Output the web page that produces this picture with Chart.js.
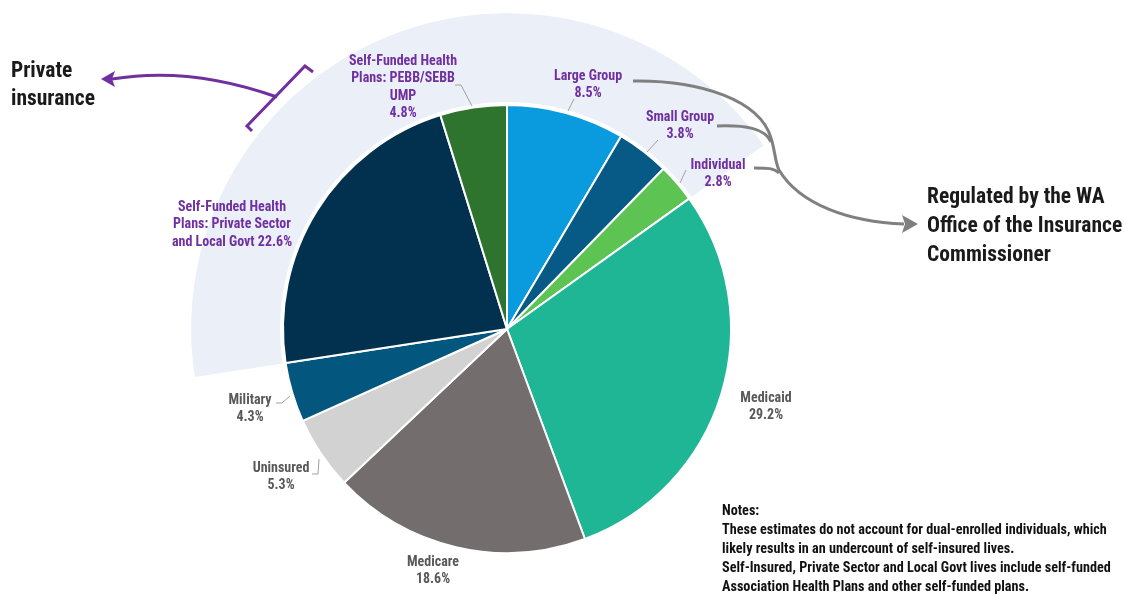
<!DOCTYPE html>
<html>
<head>
<meta charset="utf-8">
<script src="https://cdn.jsdelivr.net/npm/chart.js@4.4.0/dist/chart.umd.min.js"></script>
<style>
  html, body { margin: 0; padding: 0; background: #ffffff; }
  #wrap { position: relative; width: 1124px; height: 596px; }
</style>
</head>
<body>
<div id="wrap"><canvas id="c" width="1124" height="596"></canvas></div>
<script>
// ---- data ----
const categories = [
  'Large Group',
  'Small Group',
  'Individual',
  'Medicaid',
  'Medicare',
  'Uninsured',
  'Military',
  'Self-Funded Health Plans: Private Sector and Local Govt',
  'Self-Funded Health Plans: PEBB/SEBB UMP'
];
const shares = [8.5, 3.8, 2.8, 29.2, 18.6, 5.3, 4.3, 22.6, 4.8];
const privateIdx = [0, 1, 2, 7, 8];
const labelLines = [
  ['Large Group'],
  ['Small Group'],
  ['Individual'],
  ['Medicaid'],
  ['Medicare'],
  ['Uninsured'],
  ['Military'],
  ['Self-Funded Health', 'Plans: Private Sector', 'and Local Govt'],
  ['Self-Funded Health', 'Plans: PEBB/SEBB', 'UMP']
];
const noteLines = [
  'Notes:',
  'These estimates do not account for dual-enrolled individuals, which',
  'likely results in an undercount of self-insured lives.',
  'Self-Insured, Private Sector and Local Govt lives include self-funded',
  'Association Health Plans and other self-funded plans.'
];
const privateTitle = ['Private', 'insurance'];
const regulatedTitle = ['Regulated by the WA', 'Office of the Insurance', 'Commissioner'];

// ---- styles / layout ----
const sliceColors = ['#0a9ade', '#075a86', '#5dc352', '#1fb696', '#736e6d', '#d2d2d2', '#03577f', '#02314f', '#2f742e'];
const FONT = "'Liberation Sans Narrow', 'Roboto Condensed', 'DejaVu Sans Condensed', 'Liberation Sans', sans-serif";
const PURPLE = '#7030a0';
const GREYTXT = '#595959';
// label anchor (center x, first line y), and whether percent is appended on last line
const labelPos = [
  [588, 76, false], [680, 117, false], [718, 165, false], [766, 398, false],
  [433, 562, false], [281, 468, false], [250, 400, false], [232, 207, true], [403, 61, false]
];
const leaders = [
  [[568,111],[574,99]], [[658,140],[647,152]], [[686,170],[680,183]], null,
  null, [[312,474],[318,474],[319,459]], [[276,403],[282,403],[290,396]], null,
  [[455,85],[461,85],[472,106]]
];

const bgSector = {
  id: 'bgSector',
  beforeDatasetsDraw(chart) {
    const meta = chart.getDatasetMeta(0);
    const a0 = meta.data[0];
    const cx = a0.x, cy = a0.y, R = a0.outerRadius;
    const start = meta.data[7].startAngle;
    const end = meta.data[2].endAngle + Math.PI * 2;
    const ctx = chart.ctx;
    ctx.save();
    ctx.beginPath();
    ctx.moveTo(cx, cy);
    ctx.arc(cx, cy, R * 1.41, start, end);
    ctx.closePath();
    ctx.fillStyle = '#eaeff8';
    ctx.fill();
    ctx.beginPath();
    ctx.arc(cx, cy, R + 3, 0, Math.PI * 2);
    ctx.fillStyle = '#ffffff';
    ctx.fill();
    ctx.restore();
  }
};

function poly(ctx, pts) {
  ctx.beginPath();
  ctx.moveTo(pts[0][0], pts[0][1]);
  for (let i = 1; i < pts.length; i++) ctx.lineTo(pts[i][0], pts[i][1]);
  ctx.stroke();
}

const annotations = {
  id: 'annotations',
  afterDatasetsDraw(chart) {
    const ctx = chart.ctx;
    ctx.save();
    // leader lines
    ctx.strokeStyle = '#a0a0a0';
    ctx.lineWidth = 1;
    leaders.forEach(l => { if (l) poly(ctx, l); });

    // slice labels
    ctx.textAlign = 'center';
    ctx.textBaseline = 'middle';
    ctx.font = 'bold 14px ' + FONT;
    categories.forEach((c, i) => {
      const [x, y, inline] = labelPos[i];
      const pct = shares[i].toFixed(1) + '%';
      const lines = labelLines[i].slice();
      if (inline) lines[lines.length - 1] += ' ' + pct; else lines.push(pct);
      ctx.fillStyle = privateIdx.includes(i) ? PURPLE : GREYTXT;
      lines.forEach((t, k) => ctx.fillText(t, x, y + k * 17.5));
    });

    // titles
    ctx.textAlign = 'left';
    ctx.fillStyle = '#1a1a1a';
    ctx.font = 'bold 21.5px ' + FONT;
    privateTitle.forEach((t, k) => ctx.fillText(t, 11, 72 + k * 28));
    regulatedTitle.forEach((t, k) => ctx.fillText(t, 927, 198 + k * 29));

    // purple bracket + arrow
    ctx.strokeStyle = PURPLE;
    ctx.fillStyle = PURPLE;
    ctx.lineWidth = 3;
    ctx.lineJoin = 'miter';
    poly(ctx, [[252, 131], [247, 126], [305, 66], [313, 72]]);
    ctx.beginPath();
    ctx.moveTo(277, 97);
    ctx.quadraticCurveTo(190, 66, 112, 79);
    ctx.stroke();
    ctx.beginPath();
    ctx.moveTo(101, 79);
    ctx.lineTo(115, 71);
    ctx.lineTo(112, 79);
    ctx.lineTo(115, 87);
    ctx.closePath();
    ctx.fill();

    // gray arrow
    ctx.strokeStyle = '#808080';
    ctx.fillStyle = '#808080';
    ctx.lineWidth = 3;
    ctx.beginPath();
    ctx.moveTo(633, 81);
    ctx.bezierCurveTo(700, 80, 760, 100, 771, 138);
    ctx.bezierCurveTo(775, 150, 775, 162, 779, 170);
    ctx.bezierCurveTo(800, 205, 850, 222, 904, 224);
    ctx.stroke();
    ctx.beginPath();
    ctx.moveTo(717, 126);
    ctx.bezierCurveTo(745, 125, 765, 128, 771, 142);
    ctx.stroke();
    ctx.beginPath();
    ctx.moveTo(754, 168);
    ctx.bezierCurveTo(768, 168, 774, 168, 779, 173);
    ctx.stroke();
    ctx.beginPath();
    ctx.moveTo(918, 224);
    ctx.lineTo(902, 215);
    ctx.lineTo(905, 224);
    ctx.lineTo(902, 233);
    ctx.closePath();
    ctx.fill();

    // notes
    ctx.fillStyle = '#111111';
    ctx.font = 'bold 14.2px ' + FONT;
    noteLines.forEach((t, k) => ctx.fillText(t, 722, 511 + k * 19.2));
    ctx.restore();
  }
};

new Chart(document.getElementById('c'), {
  type: 'pie',
  data: {
    labels: categories,
    datasets: [{
      data: shares,
      backgroundColor: sliceColors,
      borderColor: '#ffffff',
      borderWidth: 2
    }]
  },
  options: {
    responsive: false,
    animation: false,
    devicePixelRatio: 1,
    layout: { padding: { left: 282, right: 392, top: 104, bottom: 42 } },
    plugins: { legend: { display: false }, tooltip: { enabled: false } }
  },
  plugins: [bgSector, annotations]
});
</script>
</body>
</html>
